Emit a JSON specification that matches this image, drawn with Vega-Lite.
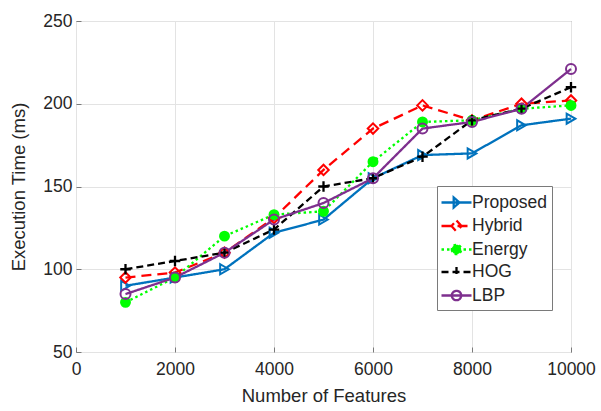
{
  "$schema": "https://vega.github.io/schema/vega-lite/v6.json",
  "autosize": "none",
  "width": 495,
  "height": 331,
  "padding": {"left": 76, "top": 21, "right": 30, "bottom": 59},
  "background": "white",
  "config": {
    "font": "Liberation Sans",
    "view": {"stroke": "#7a7a7a", "strokeWidth": 1},
    "axis": {
      "domain": false,
      "grid": true,
      "gridColor": "#e3e3e3",
      "gridWidth": 1,
      "tickColor": "#7a7a7a",
      "tickSize": -5,
      "labelFont": "Liberation Sans",
      "labelFontSize": 17.5,
      "labelColor": "#262626",
      "titleFont": "Liberation Sans",
      "titleFontSize": 18.5,
      "titleFontWeight": "normal",
      "titleColor": "#262626"
    },
    "legend": {"symbolSize": 400}
  },
  "data": {
    "values": [
      {"features": 1000, "series": "Proposed", "time": 90},
      {"features": 2000, "series": "Proposed", "time": 95},
      {"features": 3000, "series": "Proposed", "time": 100},
      {"features": 4000, "series": "Proposed", "time": 122},
      {"features": 5000, "series": "Proposed", "time": 130},
      {"features": 6000, "series": "Proposed", "time": 155},
      {"features": 7000, "series": "Proposed", "time": 169},
      {"features": 8000, "series": "Proposed", "time": 170},
      {"features": 9000, "series": "Proposed", "time": 187},
      {"features": 10000, "series": "Proposed", "time": 191},
      {"features": 1000, "series": "Hybrid", "time": 95},
      {"features": 2000, "series": "Hybrid", "time": 98},
      {"features": 3000, "series": "Hybrid", "time": 110},
      {"features": 4000, "series": "Hybrid", "time": 131},
      {"features": 5000, "series": "Hybrid", "time": 160},
      {"features": 6000, "series": "Hybrid", "time": 185},
      {"features": 7000, "series": "Hybrid", "time": 199},
      {"features": 8000, "series": "Hybrid", "time": 190},
      {"features": 9000, "series": "Hybrid", "time": 200},
      {"features": 10000, "series": "Hybrid", "time": 202},
      {"features": 1000, "series": "Energy", "time": 80},
      {"features": 2000, "series": "Energy", "time": 95},
      {"features": 3000, "series": "Energy", "time": 120},
      {"features": 4000, "series": "Energy", "time": 133},
      {"features": 5000, "series": "Energy", "time": 135},
      {"features": 6000, "series": "Energy", "time": 165},
      {"features": 7000, "series": "Energy", "time": 189},
      {"features": 8000, "series": "Energy", "time": 190},
      {"features": 9000, "series": "Energy", "time": 197},
      {"features": 10000, "series": "Energy", "time": 199},
      {"features": 1000, "series": "HOG", "time": 100},
      {"features": 2000, "series": "HOG", "time": 105},
      {"features": 3000, "series": "HOG", "time": 110},
      {"features": 4000, "series": "HOG", "time": 124},
      {"features": 5000, "series": "HOG", "time": 150},
      {"features": 6000, "series": "HOG", "time": 155},
      {"features": 7000, "series": "HOG", "time": 168},
      {"features": 8000, "series": "HOG", "time": 190},
      {"features": 9000, "series": "HOG", "time": 197},
      {"features": 10000, "series": "HOG", "time": 210},
      {"features": 1000, "series": "LBP", "time": 85},
      {"features": 2000, "series": "LBP", "time": 95},
      {"features": 3000, "series": "LBP", "time": 110},
      {"features": 4000, "series": "LBP", "time": 130},
      {"features": 5000, "series": "LBP", "time": 140},
      {"features": 6000, "series": "LBP", "time": 155},
      {"features": 7000, "series": "LBP", "time": 185},
      {"features": 8000, "series": "LBP", "time": 189},
      {"features": 9000, "series": "LBP", "time": 197},
      {"features": 10000, "series": "LBP", "time": 221}
    ]
  },
  "encoding": {
    "x": {
      "field": "features", "type": "quantitative",
      "scale": {"domain": [0, 10000], "nice": false, "zero": false},
      "axis": {"values": [0, 2000, 4000, 6000, 8000, 10000], "format": "d", "title": "Number of Features", "labelPadding": 13, "titlePadding": 9, "labelFlush": false}
    },
    "y": {
      "field": "time", "type": "quantitative",
      "scale": {"domain": [50, 250], "nice": false, "zero": false},
      "axis": {"values": [50, 100, 150, 200, 250], "title": "Execution Time (ms)", "labelPadding": 9, "titlePadding": 14, "labelFlush": false}
    }
  },
  "layer": [
    {
      "mark": {"type": "line", "strokeWidth": 2.3},
      "encoding": {
        "color": {
          "field": "series", "type": "nominal",
          "scale": {"domain": ["Proposed", "Hybrid", "Energy", "HOG", "LBP"], "range": ["#0072BD", "#FF0000", "#00FF00", "#000000", "#7E2F8E"]},
          "legend": {
            "title": null,
            "orient": "none",
            "legendX": 361,
            "legendY": 165,
            "direction": "vertical",
            "strokeColor": "#7a7a7a",
            "fillColor": "white",
            "padding": 5,
            "rowPadding": 1.5,
            "labelFontSize": 17.5,
            "labelColor": "#262626",
            "labelOffset": 7,
            "symbolStrokeWidth": 2.3,
            "encode": {
              "symbols": {
                "update": {
                  "shape": {"signal": "datum.value === 'Proposed' ? 'M-1.2,0H1.8M0.02,-0.5L0.6,0L0.02,0.5Z' : datum.value === 'Hybrid' ? 'M-1.2,0H1.8M0.3,-0.55L0.8,0L0.3,0.55L-0.2,0Z' : datum.value === 'HOG' ? 'M-1.2,0H1.8M0.3,-0.5V0.5' : 'M-1.2,0H1.8M-0.17,0A0.47,0.47 0 1,0 0.77,0A0.47,0.47 0 1,0 -0.17,0Z'"},
                  "fill": {"signal": "datum.value === 'Energy' ? '#00FF00' : 'transparent'"},
                  "strokeWidth": {"value": 2.3}
                }
              }
            }
          }
        },
        "strokeDash": {
          "field": "series", "type": "nominal",
          "scale": {"domain": ["Proposed", "Hybrid", "Energy", "HOG", "LBP"], "range": [[1, 0], [10, 6], [2.5, 3], [7, 4], [1, 0]]}
        }
      }
    },
    {
      "transform": [{"filter": "datum.series === 'Proposed'"}],
      "mark": {"type": "point", "shape": "triangle-right", "strokeWidth": 2, "size": 100, "opacity": 1, "filled": false},
      "encoding": {"color": {"field": "series", "type": "nominal", "legend": null}}
    },
    {
      "transform": [{"filter": "datum.series === 'Hybrid'"}],
      "mark": {"type": "point", "shape": "diamond", "strokeWidth": 2, "size": 110, "opacity": 1, "filled": false},
      "encoding": {"color": {"field": "series", "type": "nominal", "legend": null}}
    },
    {
      "transform": [{"filter": "datum.series === 'Energy'"}],
      "mark": {"type": "point", "shape": "circle", "strokeWidth": 2, "size": 80, "opacity": 1, "filled": false, "fill": "#00FF00"},
      "encoding": {"color": {"field": "series", "type": "nominal", "legend": null}}
    },
    {
      "transform": [{"filter": "datum.series === 'HOG'"}],
      "mark": {"type": "point", "shape": "M-1,0H1M0,-1V1", "strokeWidth": 2.3, "size": 110, "opacity": 1, "filled": false},
      "encoding": {"color": {"field": "series", "type": "nominal", "legend": null}}
    },
    {
      "transform": [{"filter": "datum.series === 'LBP'"}],
      "mark": {"type": "point", "shape": "circle", "strokeWidth": 2, "size": 100, "opacity": 1, "filled": false},
      "encoding": {"color": {"field": "series", "type": "nominal", "legend": null}}
    }
  ]
}
